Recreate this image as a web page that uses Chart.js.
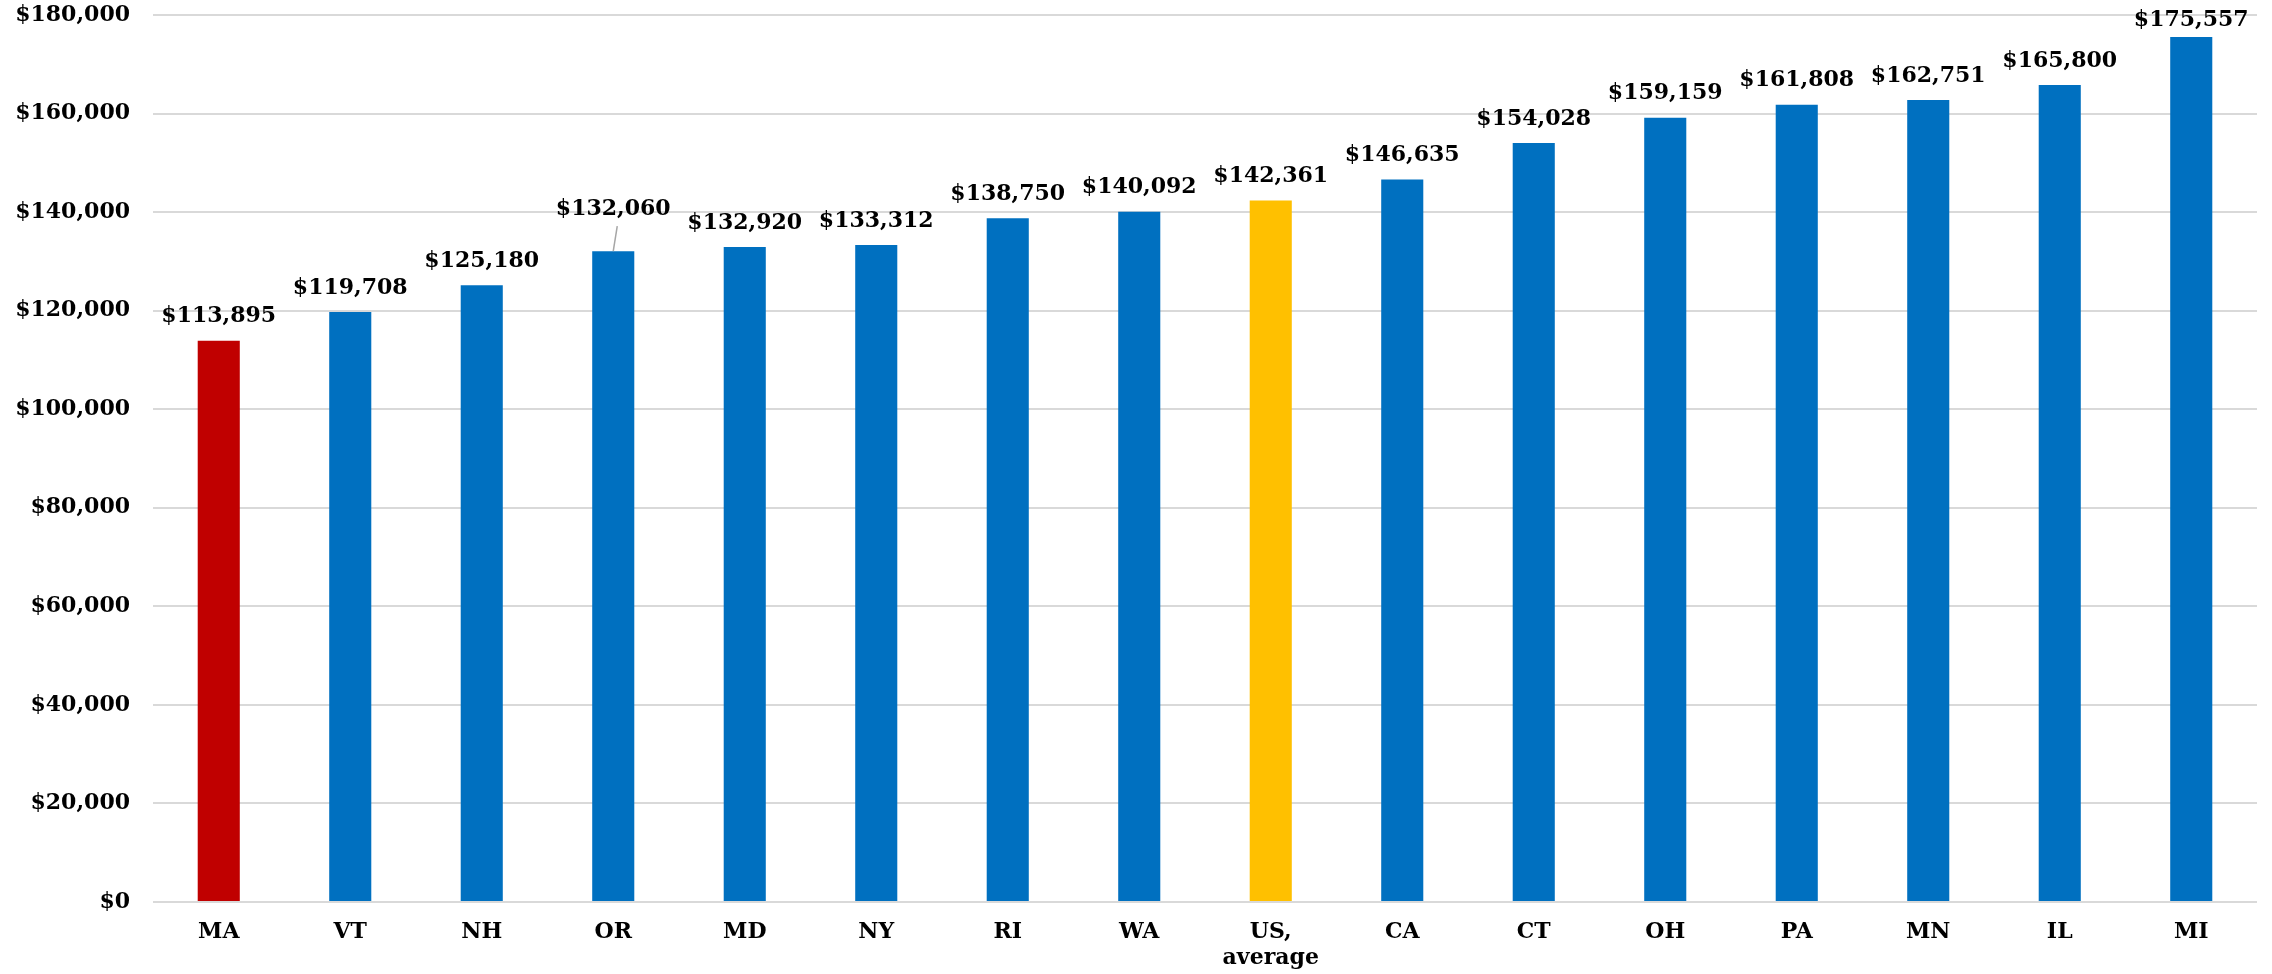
<!DOCTYPE html>
<html>
<head>
<meta charset="utf-8">
<script src="https://cdn.jsdelivr.net/npm/chart.js@4"></script>
<style>
    html, body { margin: 0; padding: 0; background: #fff; }
    #wrap { width: 2272px; height: 974px; }
</style>
</head>
<body>
<div id="wrap"><canvas id="salaryChart"></canvas></div>
<script>
// chart data
const states = ["MA", "VT", "NH", "OR", "MD", "NY", "RI", "WA", ["US,", "average"], "CA", "CT", "OH", "PA", "MN", "IL", "MI"];
const salaries = [113895, 119708, 125180, 132060, 132920, 133312, 138750, 140092, 142361, 146635, 154028, 159159, 161808, 162751, 165800, 175557];
const yTicks = [0, 20000, 40000, 60000, 80000, 100000, 120000, 140000, 160000, 180000];

const BLUE = "#0070C0";
const RED = "#C00000";
const GOLD = "#FFC000";
const FONT = "'DejaVu Serif', 'Liberation Serif', serif";

function money(v) {
    return "$" + v.toLocaleString("en-US");
}

// bar colours: first bar (MA) red, US average gold, rest blue
const barColors = states.map((s, i) => {
    if (i === 0) return RED;
    if (Array.isArray(s)) return GOLD;
    return BLUE;
});

// draws the value labels above each bar (OR one is lifted with a leader line)
const valueLabels = {
    id: "valueLabels",
    afterDatasetsDraw(chart) {
        const ctx = chart.ctx;
        const meta = chart.getDatasetMeta(0);
        ctx.save();
        ctx.font = "bold 22px " + FONT;
        ctx.fillStyle = "#000";
        ctx.textAlign = "center";
        ctx.textBaseline = "middle";
        meta.data.forEach((bar, i) => {
            let y = Math.max(bar.y - 24, 20);
            if (i === 3) {
                y = bar.y - 42;
                ctx.strokeStyle = "#A6A6A6";
                ctx.lineWidth = 1.5;
                ctx.beginPath();
                ctx.moveTo(bar.x + 4, y + 17);
                ctx.lineTo(bar.x, bar.y);
                ctx.stroke();
            }
            ctx.fillText(money(salaries[i]), bar.x, y);
        });
        ctx.restore();
    },
};

const ctx = document.getElementById("salaryChart").getContext("2d");
new Chart(ctx, {
    type: "bar",
    data: {
        labels: states,
        datasets: [
            {
                data: salaries,
                backgroundColor: barColors,
                categoryPercentage: 1,
                barPercentage: 0.32,
            },
        ],
    },
    options: {
        responsive: true,
        maintainAspectRatio: false,
        animation: false,
        layout: {
            padding: { top: 15, right: 15, left: 0, bottom: 0 },
        },
        plugins: {
            legend: { display: false },
            tooltip: { enabled: false },
        },
        scales: {
            y: {
                min: 0,
                max: 180000,
                afterBuildTicks: (scale) => {
                    scale.ticks = yTicks.map((v) => ({ value: v }));
                },
                afterFit: (scale) => {
                    scale.width = 153;
                    scale.paddingTop = 0;
                    scale.paddingBottom = 0;
                },
                border: { display: false },
                grid: {
                    color: "#D9D9D9",
                    lineWidth: 2,
                    drawTicks: false,
                },
                ticks: {
                    padding: 23,
                    color: "#000",
                    font: { family: FONT, size: 22, weight: "bold" },
                    callback: (v) => money(v),
                },
            },
            x: {
                afterFit: (scale) => {
                    scale.height = 72;
                    scale.paddingLeft = 0;
                    scale.paddingRight = 0;
                },
                border: { display: false },
                grid: { display: false, drawTicks: false },
                ticks: {
                    padding: 17,
                    color: "#000",
                    maxRotation: 0,
                    autoSkip: false,
                    font: { family: FONT, size: 22, weight: "bold" },
                },
            },
        },
    },
    plugins: [valueLabels],
});
</script>
</body>
</html>
